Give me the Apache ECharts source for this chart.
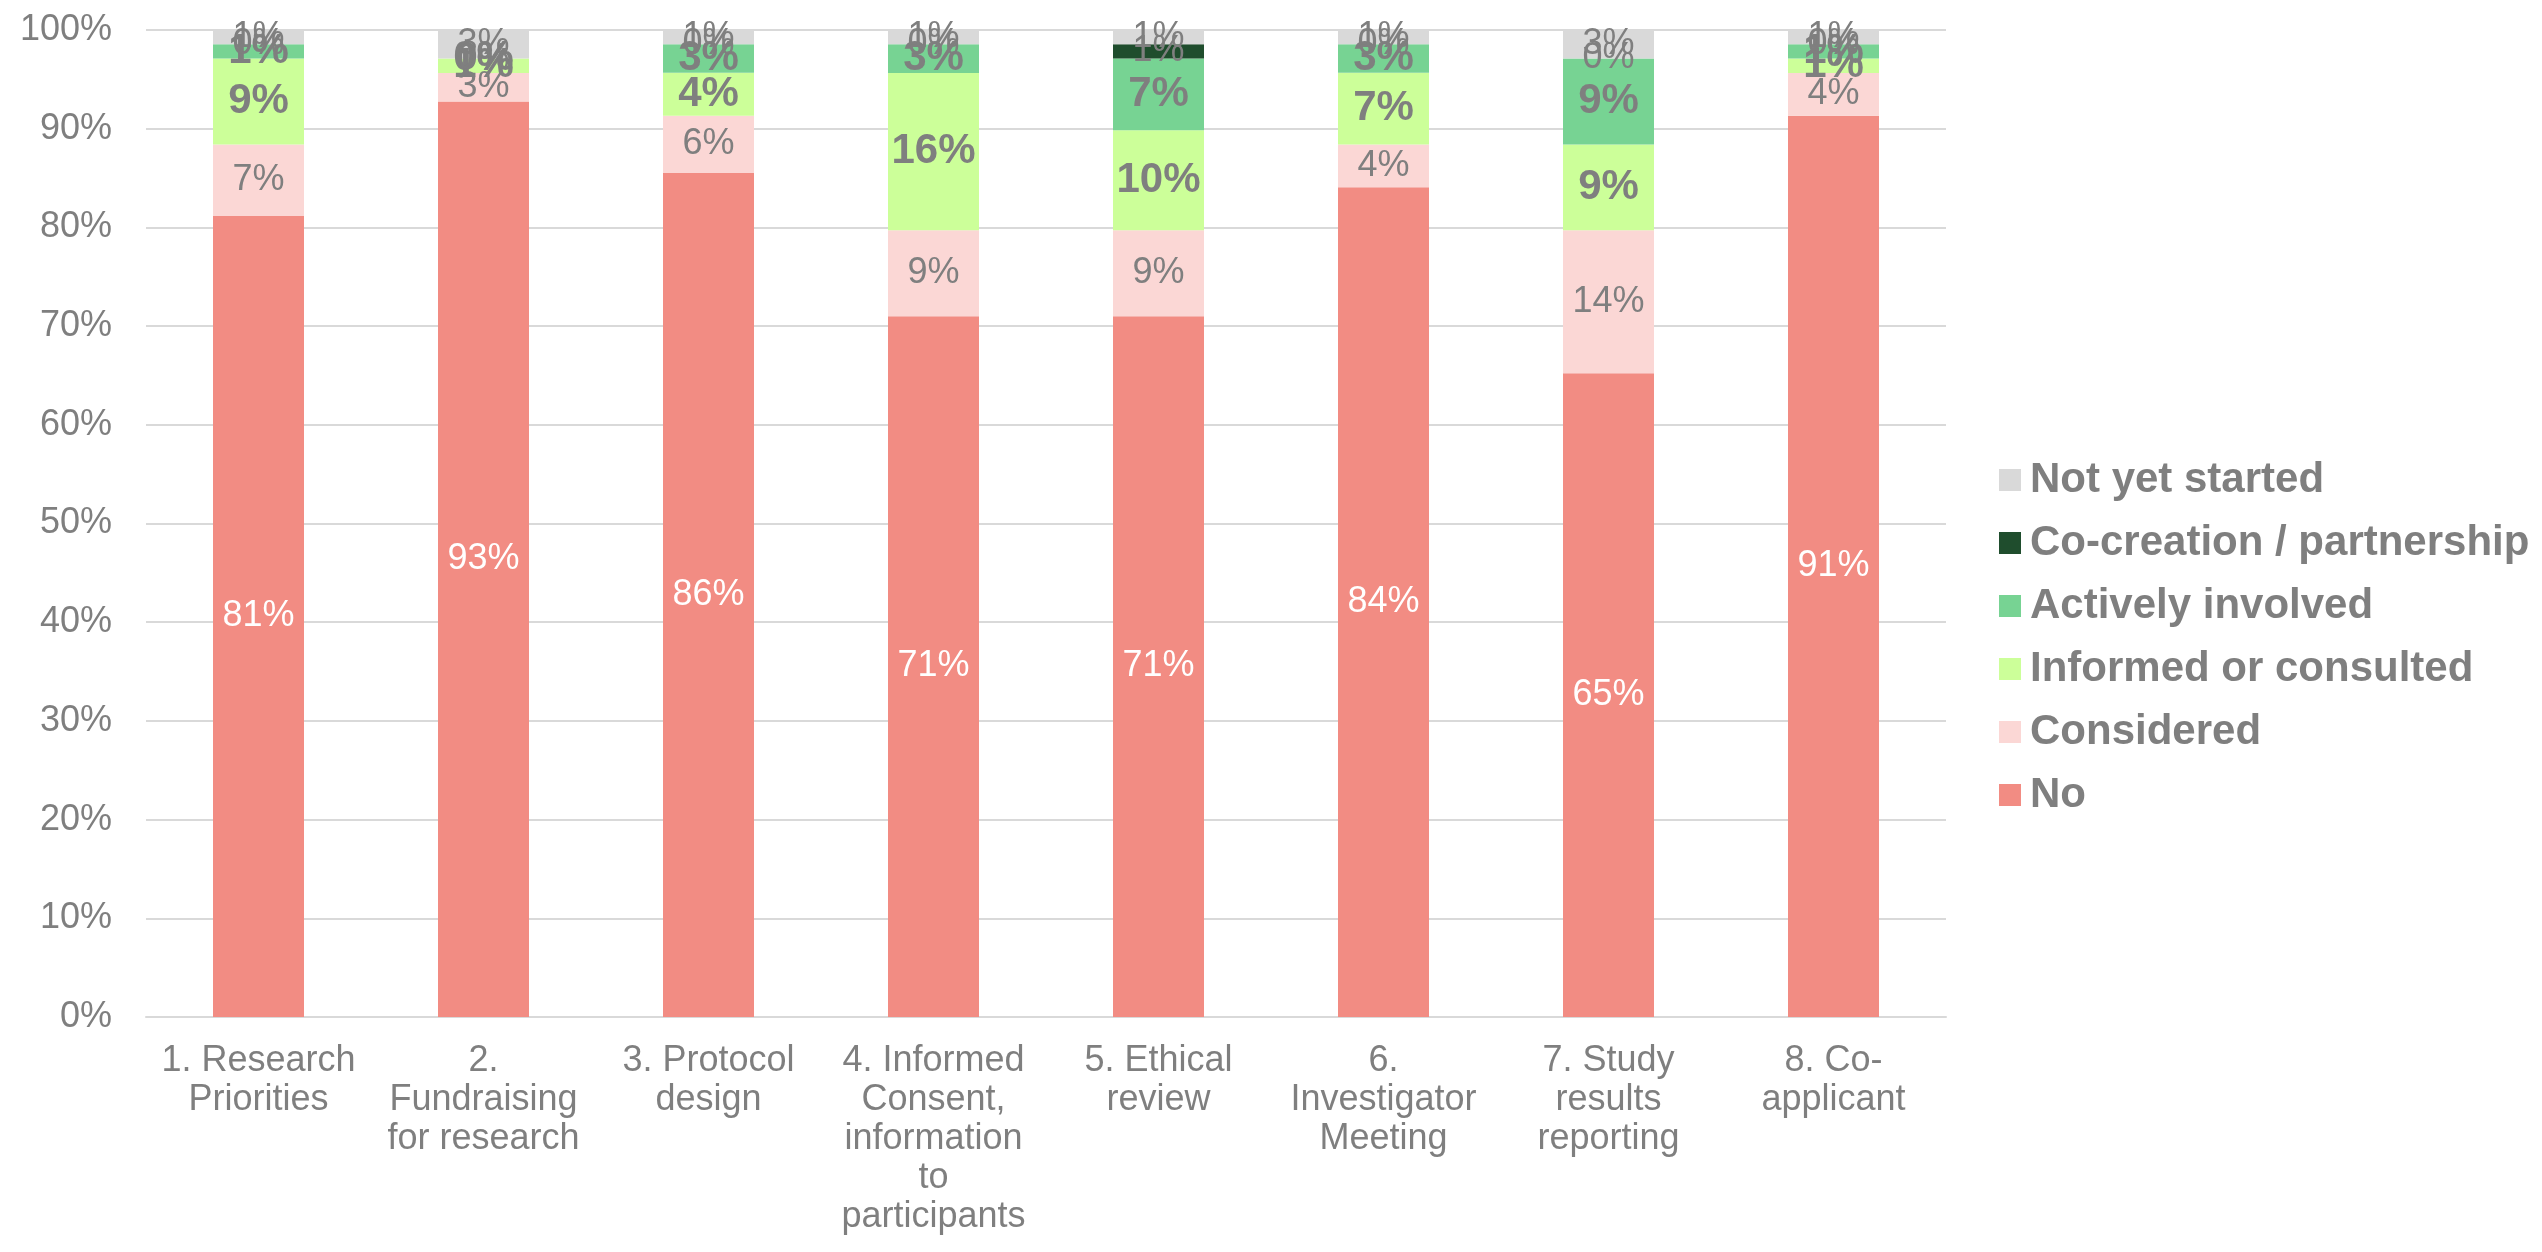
<!DOCTYPE html>
<html>
<head>
<meta charset="utf-8">
<script src="https://cdn.jsdelivr.net/npm/echarts@6/dist/echarts.min.js"></script>
<style>
html,body{margin:0;padding:0;background:#fff;}
#chart{width:2542px;height:1252px;}
</style>
</head>
<body>
<div id="chart"></div>
<script>
const categories = [
  "1. Research\nPriorities",
  "2.\nFundraising\nfor research",
  "3. Protocol\ndesign",
  "4. Informed\nConsent,\ninformation\nto\nparticipants",
  "5. Ethical\nreview",
  "6.\nInvestigator\nMeeting",
  "7. Study\nresults\nreporting",
  "8. Co-\napplicant"
];
const yTicks = [0, 10, 20, 30, 40, 50, 60, 70, 80, 90, 100];

const noValues          = [81.16, 92.75, 85.51, 71.01, 71.01, 84.06, 65.22, 91.30];
const consideredValues  = [7.25, 2.90, 5.80, 8.70, 8.70, 4.35, 14.49, 4.35];
const informedValues    = [8.70, 1.45, 4.35, 15.94, 10.14, 7.25, 8.70, 1.45];
const activeValues      = [1.45, 0, 2.90, 2.90, 7.25, 2.90, 8.70, 1.45];
const cocreationValues  = [0, 0, 0, 0, 1.45, 0, 0, 0];
const notStartedValues  = [1.45, 2.90, 1.45, 1.45, 1.45, 1.45, 2.90, 1.45];

const grey = '#7F7F7F';
const FONT = 'Liberation Sans, Arial, sans-serif';
const fmt = p => Math.round(p.value) + '%';

function ser(name, data, color, labelColor, bold, size) {
  return {
    name: name,
    type: 'bar',
    stack: 'total',
    data: data,
    barWidth: 91,
    itemStyle: { color: color },
    label: {
      show: true,
      position: 'inside',
      formatter: fmt,
      color: labelColor,
      fontFamily: FONT,
      fontWeight: bold ? 'bold' : 'normal',
      fontSize: size
    },
    emphasis: { disabled: true }
  };
}

const chart = echarts.init(document.getElementById('chart'));
chart.setOption({
  animation: false,
  backgroundColor: '#ffffff',
  grid: { left: 146, right: 596, top: 30, bottom: 235, containLabel: false },
  legend: {
    orient: 'vertical',
    left: 1994,
    top: 454,
    itemWidth: 22,
    itemHeight: 22,
    itemGap: 21,
    icon: 'rect',
    data: ['Not yet started', 'Co-creation / partnership', 'Actively involved', 'Informed or consulted', 'Considered', 'No'],
    textStyle: { color: grey, fontSize: 42, fontWeight: 'bold', fontFamily: FONT, lineHeight: 42, padding: [0, 0, 0, 4] }
  },
  xAxis: {
    type: 'category',
    data: categories,
    axisLine: { show: true, lineStyle: { color: '#D9D9D9', width: 2 } },
    axisTick: { show: false },
    axisLabel: {
      color: grey, fontSize: 36, fontFamily: FONT, lineHeight: 39, margin: 25, interval: 0
    }
  },
  yAxis: {
    type: 'value',
    min: yTicks[0],
    max: yTicks[yTicks.length - 1],
    interval: 10,
    axisLine: { show: false },
    axisTick: { show: false },
    splitLine: { lineStyle: { color: '#D9D9D9', width: 2 } },
    axisLabel: { color: grey, fontSize: 36, fontFamily: FONT, margin: 34, formatter: '{value}%' }
  },
  series: [
    ser('No', noValues, '#F28C83', '#FFFFFF', false, 36),
    ser('Considered', consideredValues, '#FBD7D5', grey, false, 36),
    ser('Informed or consulted', informedValues, '#CCFF99', grey, true, 42),
    ser('Actively involved', activeValues, '#77D393', grey, true, 42),
    ser('Co-creation / partnership', cocreationValues, '#1F4D2D', grey, false, 36),
    ser('Not yet started', notStartedValues, '#D9D9D9', grey, false, 36)
  ]
});
</script>
</body>
</html>
